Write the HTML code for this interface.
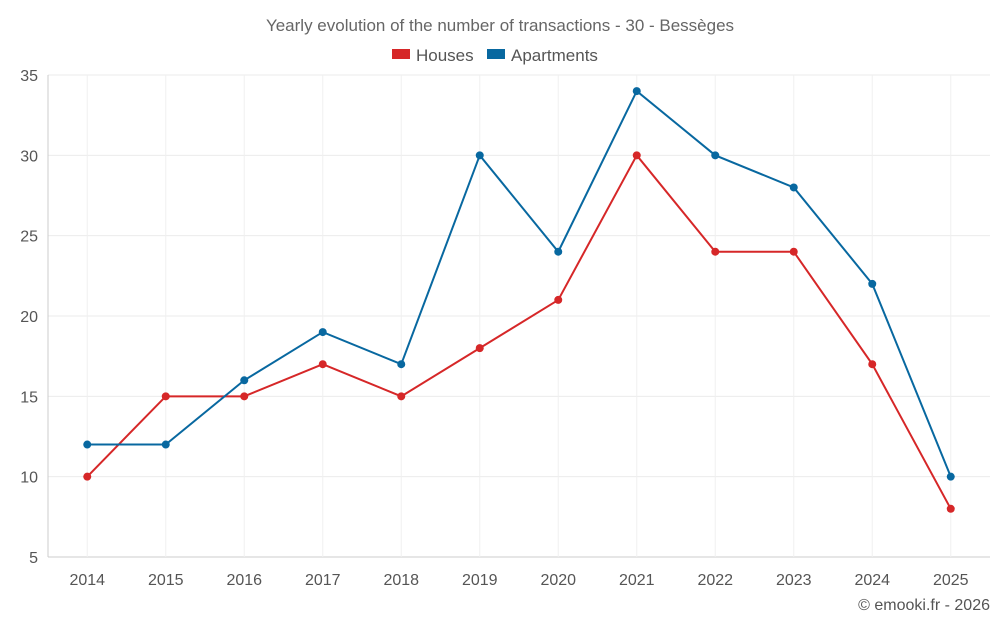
<!DOCTYPE html>
<html><head><meta charset="utf-8">
<style>
body{margin:0;background:#fff;font-family:"Liberation Sans",Roboto,sans-serif;}
svg text{font-family:"Liberation Sans",sans-serif;}
</style></head>
<body>
<svg id="chart" width="1000" height="625" viewBox="0 0 1000 625" xmlns="http://www.w3.org/2000/svg">
<text x="500" y="31" text-anchor="middle" font-size="17" fill="#666">Yearly evolution of the number of transactions - 30 - Bessèges</text>
<g>
<g><rect x="392" y="49" width="18" height="10" fill="#d62728"/><text x="416" y="61" font-size="17" fill="#555">Houses</text></g>
<g><rect x="487" y="49" width="18" height="10" fill="#0868a0"/><text x="511" y="61" font-size="17" fill="#555">Apartments</text></g>
</g>
<g id="grid"></g>
<g id="axes"></g>
<g id="series"></g>
<text x="990" y="610" text-anchor="end" font-size="16" fill="#555">© emooki.fr - 2026</text>
</svg>
<script>
const years=[2014,2015,2016,2017,2018,2019,2020,2021,2022,2023,2024,2025];
const houses=[10,15,15,17,15,18,21,30,24,24,17,8];
const apartments=[12,12,16,19,17,30,24,34,30,28,22,10];
const yTicks=[5,10,15,20,25,30,35];
const NS='http://www.w3.org/2000/svg';
const L=48,R=990,T=75,B=557,yMin=5,yMax=35;
const band=(R-L)/years.length;
const x=i=>L+band*(i+0.5);
const y=v=>B-(v-yMin)/(yMax-yMin)*(B-T);
function mk(tag,attrs,parent){const e=document.createElementNS(NS,tag);for(const k in attrs)e.setAttribute(k,attrs[k]);parent.appendChild(e);return e;}
const grid=document.getElementById('grid'),axes=document.getElementById('axes'),series=document.getElementById('series');
yTicks.forEach(t=>{
 const l=mk('line',{x1:L,x2:R,y1:y(t),y2:y(t),stroke:t===yMin?'#ccc':'#ebebeb','stroke-width':1},grid);
 
 
 const tx=mk('text',{x:L-10,y:y(t)+6,'text-anchor':'end','font-size':16,fill:'#555'},axes);
 tx.textContent=t;
 
 
});
years.forEach((yr,i)=>{
 const l=mk('line',{x1:x(i),x2:x(i),y1:T,y2:B,stroke:'#f0f0f0','stroke-width':1},grid);
 
 
 const tx=mk('text',{x:x(i),y:585,'text-anchor':'middle','font-size':16,fill:'#555'},axes);
 tx.textContent=yr;
 
 
});
const al=mk('line',{x1:L,x2:L,y1:T,y2:B,stroke:'#ccc'},axes);


function draw(vals,color,name){
 const p=mk('polyline',{points:vals.map((v,i)=>x(i)+','+y(v)).join(' '),fill:'none',stroke:color,'stroke-width':2},series);
 
 
 vals.forEach((v,i)=>{
  const c=mk('circle',{cx:x(i),cy:y(v),r:4,fill:color},series);
  
  
 });
}
draw(houses,'#d62728','houses');
draw(apartments,'#0868a0','apartments');
</script>
</body></html>
